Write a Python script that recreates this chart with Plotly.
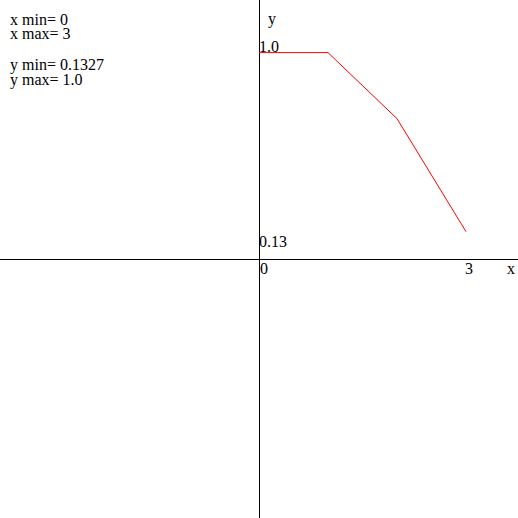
import plotly.graph_objects as go

x_vals = [0, 1, 2, 3]
y_vals = [1.0, 1.0, 0.68, 0.1327]

info_lines = ["x min= 0", "x max= 3", "", "y min= 0.1327", "y max= 1.0"]

W = H = 518
FONT = "Liberation Serif"

fig = go.Figure()
fig.add_trace(go.Scatter(x=x_vals, y=y_vals, mode="lines",
                         line=dict(color="red", width=1), hoverinfo="skip"))

xr = 259 / 69.0
yr = 259 / 206.4
fig.update_xaxes(range=[-xr, xr], showgrid=False, showticklabels=False, ticks="",
                 zeroline=True, zerolinecolor="black", zerolinewidth=1, showline=False)
fig.update_yaxes(range=[-yr, yr], showgrid=False, showticklabels=False, ticks="",
                 zeroline=True, zerolinecolor="black", zerolinewidth=1, showline=False)

def px(xp, yp):
    return xp / W, 1 - yp / H

anns = []
def add(text, xp, yp, xanchor="left"):
    xx, yy = px(xp, yp)
    anns.append(dict(text=text, x=xx, y=yy, xref="paper", yref="paper",
                     xanchor=xanchor, yanchor="middle", showarrow=False,
                     borderpad=0,
                     font=dict(family=FONT, size=16, color="black")))

add(info_lines[0], 9, 19)
add(info_lines[1], 9, 34)
add(info_lines[3], 9, 65)
add(info_lines[4], 9, 80)
add("y", 272, 19, "center")
add("x", 511, 268, "center")
add("1.0", 258, 46)
add("0.13", 258, 241)
add("0", 259, 268)
add("3", 469, 268, "center")

fig.update_layout(width=W, height=H, margin=dict(l=0, r=0, t=0, b=0),
                  plot_bgcolor="white", paper_bgcolor="white",
                  showlegend=False, annotations=anns)

fig.write_html("out.html", config={"displayModeBar": False},
               post_script="document.body.style.margin='0';document.body.style.padding='0';")
